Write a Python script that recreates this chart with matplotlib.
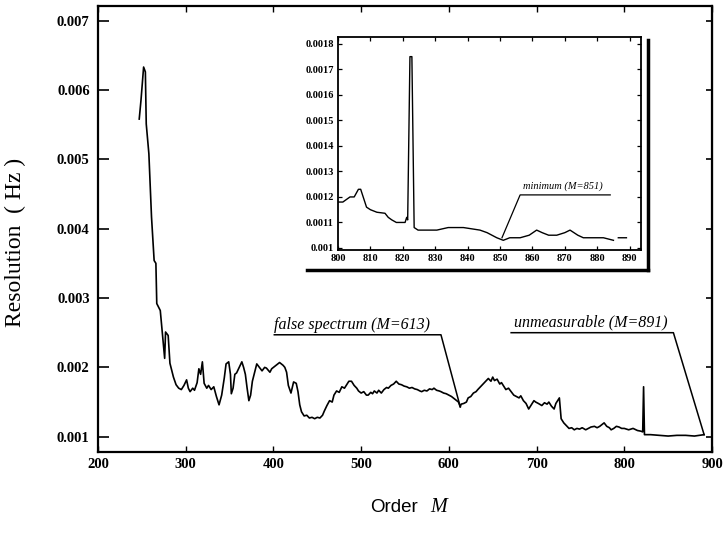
import numpy as np
import matplotlib
matplotlib.use("Agg")
import matplotlib.pyplot as plt
from matplotlib.lines import Line2D

# main curve: resolution vs. order M
order_main = [247, 249, 252, 254, 255, 258, 261, 264, 266, 267, 271, 272, 275, 276, 277,
              280, 282, 286, 289, 292, 295, 298, 301, 303, 305, 308, 310, 313, 315, 317,
              319, 321, 324, 326, 329, 332, 335, 338, 341, 344, 346, 349, 351, 352, 354,
              356, 358, 361, 364, 366, 368, 370, 372, 374, 376, 379, 381, 384, 387, 390,
              392, 394, 396, 398, 400, 403, 407, 409, 411, 413, 415, 417, 420, 423, 426,
              428, 430, 432, 435, 438, 441, 444, 447, 450, 453, 456, 458, 461, 464, 467,
              469, 472, 475, 478, 481, 484, 486, 489, 492, 495, 497, 500, 503, 506, 508,
              511, 513, 515, 518, 520, 523, 526, 529, 531, 534, 537, 540, 543, 546, 549,
              552, 555, 558, 561, 564, 567, 569, 572, 575, 578, 581, 583, 586, 589, 591,
              594, 597, 600, 603, 606, 609, 611, 613, 614, 617, 620, 622, 625, 628, 631,
              633, 636, 639, 642, 645, 648, 650, 652, 655, 658, 660, 663, 665, 668, 671,
              674, 677, 680, 682, 685, 688, 691, 694, 697, 699, 702, 706, 709, 712, 714,
              717, 720, 722, 724, 726, 727, 728, 731, 734, 737, 740, 743, 746, 749, 752,
              756, 759, 762, 766, 769, 772, 775, 777, 780, 783, 785, 788, 791, 794, 797,
              800, 805, 810, 815, 819, 821, 822, 823, 830, 840, 850, 860, 870, 880, 891]
res_main = [0.00558, 0.00585, 0.00633, 0.00626, 0.00551, 0.00508, 0.00417, 0.00354, 0.00350, 0.00292,
            0.00282, 0.00268, 0.00225, 0.00213, 0.00251, 0.00246, 0.00206, 0.00186, 0.00175, 0.00170,
            0.00168, 0.00174, 0.00182, 0.00170, 0.00165, 0.00170, 0.00167, 0.00178, 0.00198, 0.00190,
            0.00208, 0.00177, 0.00170, 0.00174, 0.00168, 0.00172, 0.00158, 0.00146, 0.00160, 0.00185,
            0.00205, 0.00208, 0.00190, 0.00162, 0.00170, 0.00190, 0.00192, 0.00200, 0.00208, 0.00200,
            0.00190, 0.00170, 0.00152, 0.00160, 0.00180, 0.00195, 0.00205, 0.00200, 0.00195, 0.00200,
            0.00199, 0.00196, 0.00193, 0.00198, 0.00200, 0.00203, 0.00207, 0.00205, 0.00203, 0.00200,
            0.00193, 0.00174, 0.00163, 0.00179, 0.00177, 0.00165, 0.00146, 0.00136, 0.00130, 0.00131,
            0.00127, 0.00128, 0.00126, 0.00128, 0.00127, 0.00131, 0.00137, 0.00145, 0.00152, 0.00150,
            0.00160, 0.00166, 0.00164, 0.00172, 0.00170, 0.00176, 0.00180, 0.00180, 0.00174, 0.00170,
            0.00166, 0.00163, 0.00165, 0.00160, 0.00160, 0.00164, 0.00162, 0.00166, 0.00163, 0.00167,
            0.00163, 0.00168, 0.00171, 0.00170, 0.00174, 0.00176, 0.00180, 0.00176, 0.00175, 0.00173,
            0.00172, 0.00170, 0.00171, 0.00169, 0.00168, 0.00166, 0.00165, 0.00167, 0.00166, 0.00169,
            0.00168, 0.00170, 0.00167, 0.00166, 0.00165, 0.00163, 0.00162, 0.00160, 0.00158, 0.00155,
            0.00152, 0.00150, 0.00143, 0.00147, 0.00148, 0.00150, 0.00156, 0.00158, 0.00163, 0.00165,
            0.00168, 0.00172, 0.00176, 0.00180, 0.00184, 0.00180, 0.00186, 0.00181, 0.00183, 0.00176,
            0.00178, 0.00172, 0.00168, 0.00170, 0.00165, 0.00160, 0.00158, 0.00156, 0.00159, 0.00152,
            0.00148, 0.00140, 0.00146, 0.00152, 0.00150, 0.00148, 0.00145, 0.00149, 0.00147, 0.00150,
            0.00144, 0.00140, 0.00148, 0.00152, 0.00156, 0.00140, 0.00126, 0.00120, 0.00116, 0.00112,
            0.00113, 0.00110, 0.00112, 0.00111, 0.00113, 0.00110, 0.00112, 0.00114, 0.00115, 0.00113,
            0.00115, 0.00118, 0.00120, 0.00115, 0.00113, 0.00110, 0.00112, 0.00115, 0.00114, 0.00112,
            0.00112, 0.00110, 0.00112, 0.00109, 0.00108, 0.00107, 0.00172, 0.00103, 0.00103, 0.00102,
            0.00101, 0.00102, 0.00102, 0.00101, 0.00103]

# inset: zoom on 800 <= M <= 890
order_inset = [800, 801.5, 803.7, 805, 806.3, 807, 808.8, 810, 812, 814.5, 815.5, 816.6, 818,
               820.7, 821.2, 821.5, 822.2, 822.8, 823.5, 824.7, 827, 830.5, 834, 838.7, 843.8,
               846, 849, 851, 853, 856.2, 859, 861.3, 863, 865, 867.5, 870, 871.6, 874, 875.7,
               878, 881.9, 885, 885.8, 886.5, 889]
res_inset = [0.00118, 0.00118, 0.00120, 0.00120, 0.00123, 0.00123, 0.00116, 0.00115, 0.00114,
             0.001136, 0.00112, 0.00111, 0.00110, 0.00110, 0.00112, 0.00111, 0.00175, 0.00175,
             0.00108, 0.00107, 0.00107, 0.00107, 0.00108, 0.00108, 0.00107, 0.00106, 0.00104,
             0.00103, 0.00104, 0.00104, 0.00105, 0.00107, 0.00106, 0.00105, 0.00105, 0.00106,
             0.00107, 0.00105, 0.00104, 0.00104, 0.00104, 0.00103, np.nan, 0.00104, 0.00104]

main_xticks = [200, 300, 400, 500, 600, 700, 800, 900]
main_yticks = [0.001, 0.002, 0.003, 0.004, 0.005, 0.006, 0.007]
inset_xticks = [800, 810, 820, 830, 840, 850, 860, 870, 880, 890]
inset_yticks = [0.001, 0.0011, 0.0012, 0.0013, 0.0014, 0.0015, 0.0016, 0.0017, 0.0018]

SERIF = "Liberation Serif"
W, H = 727, 534

fig = plt.figure(figsize=(W / 100, H / 100), dpi=100)

# ---- main axes
ax = fig.add_axes([98 / W, 1 - 452 / H, (712 - 98) / W, (452 - 6) / H])
ax.plot(order_main, res_main, color="black", lw=1.2)
ax.set_xlim(200, 900)
ax.set_ylim(0.00078, 0.00721)
ax.set_xticks(main_xticks)
ax.set_xticklabels([str(v) for v in main_xticks])
ax.set_yticks(main_yticks)
ax.set_yticklabels(["%.3f" % v for v in main_yticks])
ax.tick_params(axis="y", direction="in", length=8, width=1.2, pad=6, left=True, right=False)
ax.tick_params(axis="x", direction="in", length=4, width=1.0, pad=4, top=True)
for lab in ax.get_xticklabels() + ax.get_yticklabels():
    lab.set_fontfamily(SERIF)
    lab.set_fontsize(10.5)
    lab.set_fontweight("bold")
for s in ax.spines.values():
    s.set_linewidth(1.6)
sec = ax.secondary_yaxis("right")
sec.set_yticks(main_yticks)
sec.tick_params(direction="in", length=4, width=1.2, labelright=False)

ax.set_ylabel("Resolution  ( Hz )", fontfamily=SERIF, fontsize=17)
ax.yaxis.set_label_coords(-0.118, 0.47)

fig.text(370 / W, 1 - 507 / H, "Order", fontfamily="Liberation Sans", fontsize=13.5,
         ha="left", va="center")
fig.text(430 / W, 1 - 507 / H, "M", fontfamily=SERIF, fontstyle="italic", fontsize=14.5,
         ha="left", va="center")

# annotations in main axes
ann = dict(fontfamily=SERIF, fontstyle="italic", fontsize=11.5, ha="left", va="bottom")
ax.text(401, 0.00250, "false spectrum (M=613)", **ann)
ax.plot([401, 591, 613], [0.00247, 0.00247, 0.00143], color="black", lw=1.1)
ax.text(674, 0.00253, "unmeasurable (M=891)", **ann)
ax.plot([671, 856, 891], [0.00250, 0.00250, 0.00103], color="black", lw=1.1)

# ---- inset axes
axi = fig.add_axes([338 / W, 1 - 250 / H, (641 - 338) / W, (250 - 37) / H])
axi.plot(order_inset, res_inset, color="black", lw=1.0)
axi.set_xlim(800, 893.5)
axi.set_ylim(0.000992, 0.001827)
axi.set_xticks(inset_xticks)
axi.set_xticklabels([str(v) for v in inset_xticks])
axi.set_yticks(inset_yticks)
axi.set_yticklabels([("%.4f" % v).rstrip("0") for v in inset_yticks])
axi.tick_params(direction="in", length=3, width=0.9, pad=3, top=True, right=True)
for lab in axi.get_xticklabels() + axi.get_yticklabels():
    lab.set_fontfamily(SERIF)
    lab.set_fontsize(7.5)
    lab.set_fontweight("bold")
for s in axi.spines.values():
    s.set_linewidth(1.3)
axi.text(857.1, 0.001222, "minimum (M=851)", fontfamily=SERIF, fontstyle="italic",
         fontsize=7.5, ha="left", va="bottom")
axi.plot([884, 856.2, 850.6], [0.001208, 0.001208, 0.00104], color="black", lw=0.9)

# printed shadow of the inset box
fig.lines.append(Line2D([307 / W, 648 / W], [1 - 270 / H, 1 - 270 / H], color="black",
                        lw=2.5, transform=fig.transFigure))
fig.lines.append(Line2D([648 / W, 648 / W], [1 - 40 / H, 1 - 270 / H], color="black",
                        lw=2.5, transform=fig.transFigure))

fig.savefig("out.png", dpi=100)
